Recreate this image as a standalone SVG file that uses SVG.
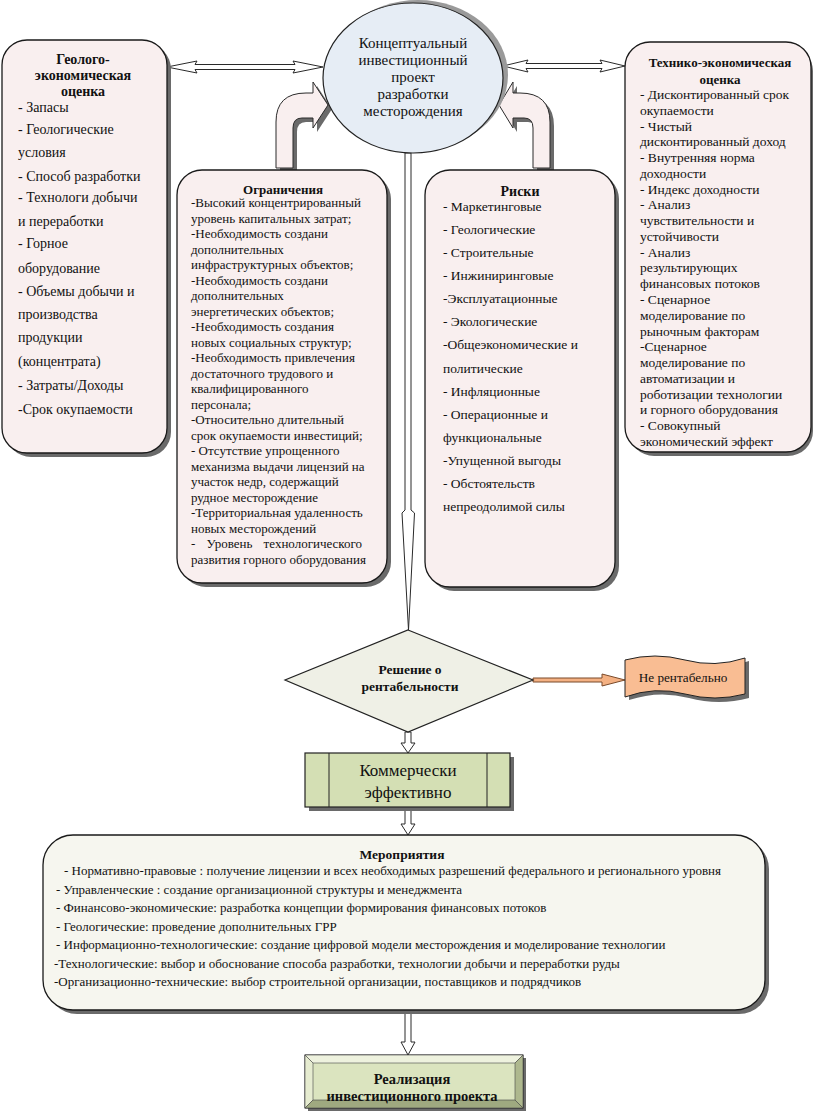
<svg xmlns="http://www.w3.org/2000/svg" width="817" height="1119" viewBox="0 0 817 1119">
<style>
text{font-family:"Liberation Serif","Times New Roman",serif;fill:#111;}
.t{font-size:13px;}
.tl{font-size:14px;}
.tr{font-size:13.5px;}
.ts{font-size:13px;}
.b{font-weight:bold;}
.box{fill:#f9efef;stroke:#1a1a1a;stroke-width:1.3;}
.sh{fill:#6a6a6a;}
.ha{fill:#ffffff;stroke:#2a2a2a;stroke-width:1;}
.ca{fill:#f9efef;stroke:#2a2a2a;stroke-width:1;}
</style>
<rect width="817" height="1119" fill="#ffffff"/>

<g id="connectors">
  <polygon class="ha" points="167,67 197,61 195,64.5 295,64.5 293,61 323,67 293,73 295,69.5 195,69.5 197,73"/>
  <polygon class="ha" points="503,66 528,60 526,63.5 602,63.5 600,60 625,66 600,72 602,68.5 526,68.5 528,72"/>
  <path class="sh" d="M280,170 L280,126 Q280,97 310,97 L317,97 L317,86 L332,109 L317,132 L317,122 L306,122 Q297,122 297,132 L297,170 Z"/>
  <path class="ca" d="M276,168 L276,122 Q276,93 306,93 L313,93 L313,82 L328,105 L313,128 L313,118 L302,118 Q293,118 293,128 L293,168 Z"/>
  <path class="sh" d="M537,170 L537,132 Q537,122 528,122 L517,122 L517,132 L503,109 L517,86 L517,97 L524,97 Q554,97 554,126 L554,170 Z"/>
  <path class="ca" d="M533,168 L533,128 Q533,118 524,118 L513,118 L513,128 L499,105 L513,82 L513,93 L520,93 Q550,93 550,122 L550,168 Z"/>
  <polygon class="ha" points="405,153 411,153 411,510 414.5,513 408.5,630 402,513 405,510"/>
  <polygon fill="#f4b183" stroke="#7a4a2a" stroke-width="1" points="533,678 602,678 602,674 625,680 602,686 602,682 533,682"/>
  <polygon class="ha" points="405,732 411,732 411,743 415,743 408,753 401,743 405,743"/>
  <polygon class="ha" points="405,807 411,807 411,824 415,824 408,835 401,824 405,824"/>
  <polygon class="ha" points="405,1010 411,1010 411,1042 415,1042 408,1055 401,1042 405,1042"/>
</g>

<g id="geo-eval">
  <rect class="sh" x="6" y="44" width="165" height="413" rx="25"/>
  <rect class="box" x="2" y="40" width="165" height="413" rx="25"/>
  <text class="tl b" text-anchor="middle" x="83" y="64">Геолого-</text>
  <text class="tl b" text-anchor="middle" x="83" y="80">экономическая</text>
  <text class="tl b" text-anchor="middle" x="83" y="96">оценка</text>
  <text class="tl" x="18" y="112">- Запасы</text>
  <text class="tl" x="18" y="134">- Геологические</text>
  <text class="tl" x="18" y="157">условия</text>
  <text class="tl" x="18" y="181">- Способ разработки</text>
  <text class="tl" x="18" y="202">- Технологи добычи</text>
  <text class="tl" x="18" y="226">и переработки</text>
  <text class="tl" x="18" y="248">- Горное</text>
  <text class="tl" x="18" y="273">оборудование</text>
  <text class="tl" x="18" y="296">- Объемы добычи и</text>
  <text class="tl" x="18" y="319">производства</text>
  <text class="tl" x="18" y="342">продукции</text>
  <text class="tl" x="18" y="366">(концентрата)</text>
  <text class="tl" x="18" y="390">- Затраты/Доходы</text>
  <text class="tl" x="18" y="414">-Срок окупаемости</text>
</g>

<g id="concept">
  <ellipse cx="418" cy="75" rx="90" ry="75" fill="#9a9a9a"/>
  <ellipse cx="413" cy="78" rx="90" ry="75" fill="#e6edf5" stroke="#222" stroke-width="1.2"/>
  <text font-size="15" text-anchor="middle" x="413" y="48">Концептуальный</text>
  <text font-size="15" text-anchor="middle" x="413" y="65">инвестиционный</text>
  <text font-size="15" text-anchor="middle" x="413" y="82">проект</text>
  <text font-size="15" text-anchor="middle" x="413" y="99">разработки</text>
  <text font-size="15" text-anchor="middle" x="413" y="116">месторождения</text>
</g>

<g id="tech-eval">
  <rect class="sh" x="629" y="46" width="184" height="410" rx="25"/>
  <rect class="box" x="625" y="42" width="186" height="410" rx="25"/>
  <text class="t b" text-anchor="middle" x="720" y="67">Технико-экономическая</text>
  <text class="t b" text-anchor="middle" x="720" y="84">оценка</text>
  <text class="tr" x="640" y="99">
    <tspan x="640" dy="0">- Дисконтированный срок</tspan>
    <tspan x="640" dy="15.77">окупаемости</tspan>
    <tspan x="640" dy="15.77">- Чистый</tspan>
    <tspan x="640" dy="15.77">дисконтированный доход</tspan>
    <tspan x="640" dy="15.77">- Внутренняя норма</tspan>
    <tspan x="640" dy="15.77">доходности</tspan>
    <tspan x="640" dy="15.77">- Индекс доходности</tspan>
    <tspan x="640" dy="15.77">- Анализ</tspan>
    <tspan x="640" dy="15.77">чувствительности и</tspan>
    <tspan x="640" dy="15.77">устойчивости</tspan>
    <tspan x="640" dy="15.77">- Анализ</tspan>
    <tspan x="640" dy="15.77">результирующих</tspan>
    <tspan x="640" dy="15.77">финансовых потоков</tspan>
    <tspan x="640" dy="15.77">- Сценарное</tspan>
    <tspan x="640" dy="15.77">моделирование по</tspan>
    <tspan x="640" dy="15.77">рыночным факторам</tspan>
    <tspan x="640" dy="15.77">-Сценарное</tspan>
    <tspan x="640" dy="15.77">моделирование по</tspan>
    <tspan x="640" dy="15.77">автоматизации и</tspan>
    <tspan x="640" dy="15.77">роботизации технологии</tspan>
    <tspan x="640" dy="15.77">и горного оборудования</tspan>
    <tspan x="640" dy="15.77">- Совокупный</tspan>
    <tspan x="640" dy="15.77">экономический эффект</tspan>
  </text>
</g>

<g id="constraints">
  <rect class="sh" x="181" y="174" width="210" height="413" rx="25"/>
  <rect class="box" x="177" y="170" width="210" height="413" rx="25"/>
  <text class="t b" text-anchor="middle" x="283" y="194">Ограничения</text>
  <text class="ts" x="191" y="207">
    <tspan x="191" dy="0">-Высокий концентрированный</tspan>
    <tspan x="191" dy="15.52">уровень капитальных затрат;</tspan>
    <tspan x="191" dy="15.52">-Необходимость создани</tspan>
    <tspan x="191" dy="15.52">дополнительных</tspan>
    <tspan x="191" dy="15.52">инфраструктурных объектов;</tspan>
    <tspan x="191" dy="15.52">-Необходимость создани</tspan>
    <tspan x="191" dy="15.52">дополнительных</tspan>
    <tspan x="191" dy="15.52">энергетических объектов;</tspan>
    <tspan x="191" dy="15.52">-Необходимость создания</tspan>
    <tspan x="191" dy="15.52">новых социальных структур;</tspan>
    <tspan x="191" dy="15.52">-Необходимость привлечения</tspan>
    <tspan x="191" dy="15.52">достаточного трудового и</tspan>
    <tspan x="191" dy="15.52">квалифицированного</tspan>
    <tspan x="191" dy="15.52">персонала;</tspan>
    <tspan x="191" dy="15.52">-Относительно длительный</tspan>
    <tspan x="191" dy="15.52">срок окупаемости инвестиций;</tspan>
    <tspan x="191" dy="15.52">- Отсутствие упрощенного</tspan>
    <tspan x="191" dy="15.52">механизма выдачи лицензий на</tspan>
    <tspan x="191" dy="15.52">участок недр, содержащий</tspan>
    <tspan x="191" dy="15.52">рудное месторождение</tspan>
    <tspan x="191" dy="15.52">-Территориальная удаленность</tspan>
    <tspan x="191" dy="15.52">новых месторождений</tspan>
  </text>
  <text class="ts" x="191" y="548" word-spacing="8">- Уровень технологического</text>
  <text class="ts" x="191" y="564">развития горного оборудования</text>
</g>

<g id="risks">
  <rect class="sh" x="429" y="174" width="190" height="417" rx="25"/>
  <rect class="box" x="425" y="170" width="190" height="417" rx="25"/>
  <text class="tl b" text-anchor="middle" x="520" y="196">Риски</text>
  <text class="tr" x="443" y="211">
    <tspan x="443" dy="0">- Маркетинговые</tspan>
    <tspan x="443" dy="23.08">- Геологические</tspan>
    <tspan x="443" dy="23.08">- Строительные</tspan>
    <tspan x="443" dy="23.08">- Инжиниринговые</tspan>
    <tspan x="443" dy="23.08">-Эксплуатационные</tspan>
    <tspan x="443" dy="23.08">- Экологические</tspan>
    <tspan x="443" dy="23.08">-Общеэкономические и</tspan>
    <tspan x="443" dy="23.08">политические</tspan>
    <tspan x="443" dy="23.08">- Инфляционные</tspan>
    <tspan x="443" dy="23.08">- Операционные и</tspan>
    <tspan x="443" dy="23.08">функциональные</tspan>
    <tspan x="443" dy="23.08">-Упущенной выгоды</tspan>
    <tspan x="443" dy="23.08">- Обстоятельств</tspan>
    <tspan x="443" dy="23.08">непреодолимой силы</tspan>
  </text>
</g>

<g id="decision">
  <polygon points="408,630 533,680 408,732 285,680" fill="#eff0e6" stroke="#222" stroke-width="1.2"/>
  <text class="tr b" text-anchor="middle" x="410" y="674">Решение о</text>
  <text class="tr b" text-anchor="middle" x="410" y="691">рентабельности</text>
</g>

<g id="not-profitable">
  <path d="M629,663 Q659,655 689,663 T749,661 L749,698 Q719,706 689,698 T629,700 Z" fill="#6a6a6a"/>
  <path d="M625,660 Q655,652 685,660 T745,658 L745,694 Q715,702 685,694 T625,697 Z" fill="#f9bd93" stroke="#222" stroke-width="1"/>
  <text font-size="13.2" text-anchor="middle" x="683" y="682">Не рентабельно</text>
</g>

<g id="commercial">
  <rect x="309" y="757" width="205" height="54" fill="#6a6a6a"/>
  <rect x="305" y="753" width="205" height="54" fill="#d4dfb4" stroke="#222" stroke-width="1.2"/>
  <line x1="329" y1="753" x2="329" y2="807" stroke="#222" stroke-width="1"/>
  <line x1="487" y1="753" x2="487" y2="807" stroke="#222" stroke-width="1"/>
  <text font-size="17" text-anchor="middle" x="408" y="776">Коммерчески</text>
  <text font-size="17" text-anchor="middle" x="408" y="798">эффективно</text>
</g>

<g id="measures">
  <rect class="sh" x="47" y="839" width="722" height="175" rx="30"/>
  <rect x="43" y="835" width="722" height="175" rx="30" fill="#f6f6ef" stroke="#1a1a1a" stroke-width="1.3"/>
  <text class="tr b" text-anchor="middle" x="402" y="859">Мероприятия</text>
  <text class="t" x="64" y="875">- Нормативно-правовые : получение лицензии и всех необходимых разрешений федерального и регионального уровня</text>
  <text class="t" x="56" y="893.5">- Управленческие : создание организационной структуры и менеджмента</text>
  <text class="t" x="56" y="912">-  Финансово-экономические: разработка концепции формирования финансовых потоков</text>
  <text class="t" x="56" y="930.5">- Геологические: проведение дополнительных ГРР</text>
  <text class="t" x="56" y="949">- Информационно-технологические: создание цифровой модели месторождения и моделирование технологии</text>
  <text class="t" x="54" y="967.5">-Технологические: выбор и обоснование способа разработки, технологии добычи и переработки руды</text>
  <text class="t" x="54" y="986">-Организационно-технические: выбор строительной организации, поставщиков и подрядчиков</text>
</g>

<g id="implementation">
  <rect x="308" y="1058" width="218" height="53" fill="#6a6a6a"/>
  <rect x="305" y="1055" width="218" height="53" fill="#dbe4bf" stroke="#222" stroke-width="1"/>
  <polygon points="305,1055 523,1055 515,1063 313,1063" fill="#eef2de" stroke="#444" stroke-width="0.6"/>
  <polygon points="305,1055 313,1063 313,1100 305,1108" fill="#e6ecd0" stroke="#444" stroke-width="0.6"/>
  <polygon points="523,1055 523,1108 515,1100 515,1063" fill="#aeb88e" stroke="#444" stroke-width="0.6"/>
  <polygon points="305,1108 313,1100 515,1100 523,1108" fill="#9fa980" stroke="#444" stroke-width="0.6"/>
  <text font-size="14.5" font-weight="bold" text-anchor="middle" x="412" y="1084">Реализация</text>
  <text font-size="14.5" font-weight="bold" text-anchor="middle" x="412" y="1101">инвестиционного проекта</text>
</g>
</svg>
